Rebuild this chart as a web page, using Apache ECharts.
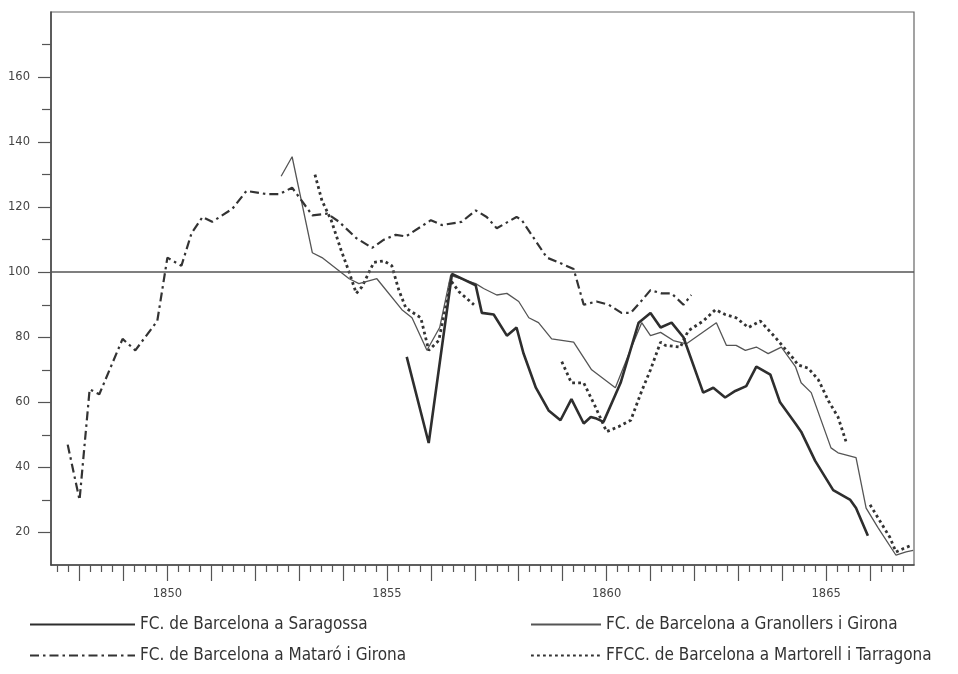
<!DOCTYPE html>
<html>
<head>
<meta charset="utf-8">
<script src="https://cdn.jsdelivr.net/npm/echarts@6/dist/echarts.min.js"></script>
<style>
  html, body { margin: 0; padding: 0; background: #fff; }
  #chart { width: 958px; height: 674px; }
</style>
</head>
<body>
<div id="chart"></div>
<script>
// [year, index] pairs
const saragossa = [
  [1855.45, 74], [1855.95, 47.5], [1856.48, 99.5], [1857.02, 96], [1857.16, 87.5], [1857.43, 87],
  [1857.73, 80.5], [1857.95, 83], [1858.11, 75], [1858.39, 64.5], [1858.68, 57.5], [1858.95, 54.5],
  [1859.2, 61], [1859.48, 53.5], [1859.64, 55.5], [1859.77, 55], [1859.93, 54], [1860.32, 66],
  [1860.73, 84.5], [1861.0, 87.5], [1861.23, 83], [1861.48, 84.5], [1861.75, 80], [1862.2, 63],
  [1862.43, 64.5], [1862.7, 61.5], [1862.93, 63.5], [1863.18, 65], [1863.41, 71], [1863.73, 68.5],
  [1863.95, 60], [1864.3, 53.5], [1864.43, 51], [1864.75, 42], [1865.16, 33], [1865.55, 30],
  [1865.68, 27.5], [1865.95, 19]
];
const granollers = [
  [1852.59, 129.5], [1852.84, 135.5], [1853.3, 106], [1853.52, 104.5], [1854.14, 98], [1854.36, 96.5],
  [1854.77, 98], [1855.34, 88.5], [1855.57, 86], [1855.91, 76], [1856.2, 83], [1856.45, 99],
  [1857.02, 96.5], [1857.2, 95], [1857.5, 93], [1857.73, 93.5], [1858.0, 91], [1858.23, 86],
  [1858.45, 84.5], [1858.75, 79.5], [1859.25, 78.5], [1859.66, 70], [1860.2, 64.5], [1860.57, 77],
  [1860.8, 84.5], [1861.0, 80.5], [1861.23, 81.5], [1861.52, 79], [1861.82, 78], [1862.5, 84.5],
  [1862.73, 77.5], [1862.95, 77.5], [1863.16, 76], [1863.41, 77], [1863.68, 75], [1863.98, 77],
  [1864.3, 71], [1864.43, 66], [1864.66, 63], [1865.11, 46], [1865.27, 44.5], [1865.68, 43],
  [1865.91, 27.5], [1866.18, 21.5], [1866.59, 13], [1866.82, 14], [1866.98, 14.5]
];
const mataro = [
  [1847.73, 47], [1848.0, 30], [1848.23, 64], [1848.45, 62.5], [1848.98, 79.5], [1849.27, 76],
  [1849.77, 85], [1850.0, 104.5], [1850.32, 102], [1850.55, 112], [1850.8, 117], [1851.02, 115.5],
  [1851.48, 119.5], [1851.8, 125], [1852.27, 124], [1852.55, 124], [1852.84, 126], [1853.3, 117.5],
  [1853.64, 118], [1853.91, 115.5], [1854.3, 110.5], [1854.66, 107.5], [1854.93, 110], [1855.2, 111.5],
  [1855.43, 111], [1856.0, 116], [1856.25, 114.5], [1856.7, 115.5], [1857.02, 119], [1857.27, 117],
  [1857.5, 113.5], [1857.95, 117], [1858.07, 116], [1858.64, 104.5], [1858.91, 103], [1859.25, 101],
  [1859.48, 90], [1859.77, 91], [1860.05, 90], [1860.34, 87.5], [1860.55, 87.5], [1860.75, 90.5],
  [1861.0, 94.5], [1861.25, 93.5], [1861.48, 93.5], [1861.75, 90], [1861.93, 93]
];
const martorell = [
  [1853.36, 130], [1853.52, 122], [1853.73, 116], [1853.95, 107], [1854.14, 100], [1854.3, 93.5],
  [1854.43, 95.5], [1854.7, 103], [1854.93, 103.5], [1855.11, 102], [1855.27, 94.5], [1855.43, 89],
  [1855.77, 86], [1855.95, 76], [1856.18, 79], [1856.45, 97.5], [1856.64, 94], [1856.98, 90],
  [1857.5, '-'],
  [1858.98, 72.5], [1859.2, 66], [1859.48, 66], [1859.75, 58.5], [1860.0, 51], [1860.27, 52.5],
  [1860.55, 54.5], [1860.8, 63.5], [1861.0, 70], [1861.23, 78.5], [1861.34, 77.5], [1861.68, 77],
  [1861.86, 82], [1862.2, 85], [1862.48, 88.5], [1862.7, 87], [1862.95, 86], [1863.23, 83],
  [1863.5, 85], [1863.84, 80], [1864.25, 73.5], [1864.36, 71.5], [1864.59, 70.5], [1864.82, 67],
  [1865.05, 60.5], [1865.27, 55.5], [1865.45, 48],
  [1865.7, '-'],
  [1866.0, 28.5], [1866.18, 24.5], [1866.45, 18.5], [1866.59, 14], [1866.75, 15], [1866.93, 16]
];

const names = [
  "FC. de Barcelona a Saragossa",
  "FC. de Barcelona a Granollers i Girona",
  "FC. de Barcelona a Mataró i Girona",
  "FFCC. de Barcelona a Martorell i Tarragona"
];

const yearTicks = [1848, 1849, 1850, 1851, 1852, 1853, 1854, 1855, 1856, 1857,
  1858, 1859, 1860, 1861, 1862, 1863, 1864, 1865, 1866];
const yearLabels = [1850, 1855, 1860, 1865];
const yLabels = [20, 40, 60, 80, 100, 120, 140, 160];
const yMinorTicks = [30, 50, 70, 90, 110, 130, 150, 170];

const quarterTicks = [1847.5, 1847.75];
yearTicks.forEach(y => quarterTicks.push(y + 0.25, y + 0.5, y + 0.75));

const ink = "#333";
const axisFont = { fontFamily: "DejaVu Sans", fontSize: 11.5, color: "#444" };

const chart = echarts.init(document.getElementById("chart"));

const xBase = {
  type: "value",
  min: 1847.35,
  max: 1867,
  position: "bottom",
  splitLine: { show: false }
};
const yBase = {
  type: "value",
  min: 10,
  max: 180,
  position: "left",
  splitLine: { show: false }
};

const legendText = {
  fontFamily: "Liberation Sans Narrow, DejaVu Sans Condensed, Noto Sans",
  fontSize: 17,
  color: "#333"
};

chart.setOption({
  animation: false,
  backgroundColor: "#fff",
  grid: {
    left: 51, right: 44, top: 12, bottom: 109,
    show: true, borderColor: "#666", borderWidth: 1.2
  },
  legend: [
    {
      data: [names[0], names[2]],
      orient: "vertical",
      left: 24, top: 611,
      itemWidth: 105, itemHeight: 14, itemGap: 14,
      itemStyle: { opacity: 0 },
      textStyle: legendText
    },
    {
      data: [names[1], names[3]],
      orient: "vertical",
      left: 525, top: 611,
      itemWidth: 70, itemHeight: 14, itemGap: 14,
      itemStyle: { opacity: 0 },
      textStyle: legendText
    }
  ],
  xAxis: [
    Object.assign({}, xBase, {
      axisLine: { show: true, lineStyle: { color: "#444", width: 1.5 } },
      axisTick: { show: true, customValues: yearTicks, length: 16, lineStyle: { color: "#555", width: 1.2 } },
      axisLabel: Object.assign({ customValues: yearLabels, margin: 23, formatter: v => String(v) }, axisFont)
    }),
    Object.assign({}, xBase, {
      axisLine: { show: false },
      axisTick: { show: true, customValues: quarterTicks, length: 7, lineStyle: { color: "#555", width: 1.2 } },
      axisLabel: { show: false }
    })
  ],
  yAxis: [
    Object.assign({}, yBase, {
      axisLine: { show: true, lineStyle: { color: "#444", width: 1.5 } },
      axisTick: { show: true, customValues: yLabels, length: 13, lineStyle: { color: "#555", width: 1.2 } },
      axisLabel: Object.assign({ customValues: yLabels, margin: 21 }, axisFont)
    }),
    Object.assign({}, yBase, {
      axisLine: { show: false },
      axisTick: { show: true, customValues: yMinorTicks, length: 9, lineStyle: { color: "#555", width: 1.2 } },
      axisLabel: { show: false }
    })
  ],
  series: [
    {
      name: names[3],
      type: "line",
      data: martorell,
      symbol: "none",
      connectNulls: false,
      lineStyle: { color: ink, width: 2.8, type: [2.8, 3.2] },
      itemStyle: { color: ink },
      markLine: {
        silent: true,
        symbol: "none",
        label: { show: false },
        lineStyle: { color: "#555", width: 1.5, type: "solid" },
        data: [{ yAxis: 100 }]
      }
    },
    {
      name: names[1],
      type: "line",
      data: granollers,
      symbol: "none",
      lineStyle: { color: "#555", width: 1.3 },
      itemStyle: { color: "#555" }
    },
    {
      name: names[2],
      type: "line",
      data: mataro,
      symbol: "none",
      lineStyle: { color: ink, width: 2.2, type: [9, 4, 2.5, 4] },
      itemStyle: { color: ink }
    },
    {
      name: names[0],
      type: "line",
      data: saragossa,
      symbol: "none",
      lineStyle: { color: "#2e2e2e", width: 2.6 },
      itemStyle: { color: "#2e2e2e" }
    }
  ]
});
</script>
</body>
</html>
